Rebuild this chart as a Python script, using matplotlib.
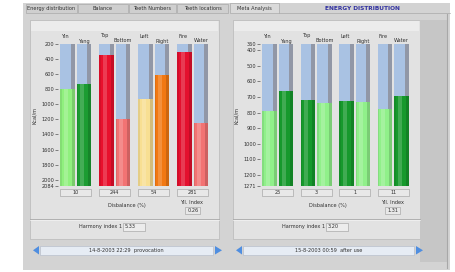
import matplotlib
matplotlib.use("Agg")
import matplotlib.pyplot as plt
from matplotlib.patches import Rectangle, Polygon

W, H = 456, 272

# ---------------------------------------------------------------------------
# data
# ---------------------------------------------------------------------------
tabs = ["Energy distribution", "Balance", "Teeth Numbers", "Teeth locations", "Meta Analysis"]
title = "ENERGY DISTRIBUTION"
categories = ["Yin", "Yang", "Top", "Bottom", "Left", "Right", "Fire", "Water"]

left_vals = [800, 735, 345, 1190, 935, 615, 310, 1245]
left_colors = ["#90f07e", "#1c9c32", "#e8102c", "#f27373", "#f8df92", "#f27812", "#e4102e", "#f27373"]
left_ticks = [200, 400, 600, 800, 1000, 1200, 1400, 1600, 1800, 2000, 2084]
left_disb = ["10", "244", "54", "281"]
left_yil = "0.26"
left_harmony = "5.33"
left_date = "14-8-2003 22:29  provocation"

right_vals = [790, 660, 720, 740, 728, 730, 775, 692]
right_colors = ["#90f08a", "#16992c", "#16992c", "#90f08a", "#16992c", "#90f08a", "#90f08a", "#16992c"]
right_ticks = [360, 400, 500, 600, 700, 800, 900, 1000, 1100, 1200, 1271]
right_disb = ["25", "3", "1", "11"]
right_yil = "1.31"
right_harmony = "3.20"
right_date = "15-8-2003 00:59  after use"

FS = 3.6
fig = plt.figure(figsize=(W / 100, H / 100), dpi=100)
fig.patch.set_facecolor("white")

# canvas in pixel coordinates for the window chrome
cv = fig.add_axes([0, 0, 1, 1])
cv.set_xlim(0, W); cv.set_ylim(H, 0); cv.axis("off")


def rect(x0, y0, x1, y1, fc, ec="none", lw=0.5, z=1):
    cv.add_patch(Rectangle((x0, y0), x1 - x0, y1 - y0, fc=fc, ec=ec, lw=lw, zorder=z))


# window body + tabs
rect(23, 3, 450, 270, "#d3d3d3")
tab_x = [(26, 77), (78, 128), (129, 176), (177, 228), (230, 279)]
for (a, b), t in zip(tab_x, tabs):
    sel = t == "Meta Analysis"
    rect(a, 3 if sel else 4, b, 13, "#dadada" if sel else "#cfcfcf", ec="#a0a0a0", lw=0.4)
    cv.text((a + b) / 2, 8.5, t, fontsize=FS, ha="center", va="center", color="#303030")
cv.text(362, 8.5, title, fontsize=4.2, ha="center", va="center", color="#3030a0", weight="bold")
cv.plot([279, 450], [13, 13], color="#a8a8a8", lw=0.5)

for px0, px1, gray_right in [(30, 219, False), (233, 420, True)]:
    rect(px0, 20, px1, 239, "#e2e2e2", ec="#b8b8b8", lw=0.5)
    rect(px0 + 1, 21, px1 - 1, 31, "#ececec")
    cv.plot([px0, px1], [219, 219], color="#a8a8a8", lw=0.6)
    cv.plot([px0, px1], [220, 220], color="#f4f4f4", lw=0.5)
    if gray_right:
        rect(420, 20, 447, 262, "#c6c6c6")
        cv.plot([447, 447], [14, 268], color="#a8a8a8", lw=0.8)


def panel(ax_x0, ax_x1, vals, colors, ticks, disb, yil, harmony, date,
          px0, px1, step, pair):
    top, bot = 44, 186
    ax = fig.add_axes([ax_x0 / W, (H - bot) / H, (ax_x1 - ax_x0) / W, (bot - top) / H])
    ax.set_facecolor("none")
    lo, hi = ticks[0], ticks[-1]
    ax.set_ylim(hi, lo)
    span = ax_x1 - ax_x0
    ax.set_xlim(0, span)
    bw = 14.5
    centers = [9.5 + (i // 2) * step + (i % 2) * pair for i in range(len(vals))]
    for i, (c, v, col) in enumerate(zip(centers, vals, colors)):
        # empty tube
        ax.bar(c, lo - hi, bottom=hi, width=bw, color="#a9c2e3", lw=0)
        ax.bar(c + bw * 0.36, lo - hi, bottom=hi, width=bw * 0.28, color="#9197a6", lw=0)
        # filled part with simple cylinder shading
        ax.bar(c, v - hi, bottom=hi, width=bw, color=col, lw=0)
        ax.bar(c - bw * 0.12, v - hi, bottom=hi, width=bw * 0.3, color="white", alpha=0.18, lw=0)
        ax.bar(c + bw * 0.4, v - hi, bottom=hi, width=bw * 0.2, color="black", alpha=0.15, lw=0)
        ax.bar(c - bw * 0.45, v - hi, bottom=hi, width=bw * 0.1, color="black", alpha=0.08, lw=0)
    ax.set_yticks(ticks)
    ax.set_yticklabels([str(t) for t in ticks])
    ax.tick_params(axis="y", labelsize=FS, length=2, width=0.4, pad=0.8, colors="#303030")
    ax.set_xticks([])
    for s in ax.spines.values():
        s.set_visible(False)
    ax.set_ylabel("Kcal/m", fontsize=FS, labelpad=3, color="#303030")
    # category labels, staggered like the original
    for i, c in enumerate(centers):
        xpix = ax_x0 + c
        if i % 2 == 0:
            cv.text(xpix - bw / 2 + 1, 36, categories[i], fontsize=FS, ha="left", va="center", color="#303030")
        else:
            cv.text(xpix, 41, categories[i], fontsize=FS, ha="center", va="center", color="#303030")
    # disbalance boxes under each pair
    for g, d in enumerate(disb):
        a = ax_x0 + centers[2 * g] - bw / 2
        b = ax_x0 + centers[2 * g + 1] + bw / 2
        rect(a, 188.5, b, 196, "#e8e8e8", ec="#9a9a9a", lw=0.4, z=2)
        cv.text((a + b) / 2, 192.3, d, fontsize=FS, ha="center", va="center", color="#303030", zorder=3)
    mid = ax_x0 + (centers[0] + centers[-3]) / 2 + 12
    cv.text(mid, 205, "Disbalance (%)", fontsize=FS, ha="center", va="center", color="#303030")
    yx = ax_x0 + centers[-1] - 9
    cv.text(yx, 203, "Yil. Index", fontsize=FS, ha="center", va="center", color="#303030")
    rect(yx - 7, 207, yx + 8, 214, "#e8e8e8", ec="#9a9a9a", lw=0.4, z=2)
    cv.text(yx + 1, 210.5, yil, fontsize=FS, ha="center", va="center", color="#303030", zorder=3)
    # harmony index
    hx = px0 + 92
    cv.text(hx, 226.5, "Harmony index 1", fontsize=FS, ha="right", va="center", color="#303030")
    rect(hx + 1, 222.5, hx + 23, 230.5, "#ececec", ec="#9a9a9a", lw=0.4, z=2)
    cv.text(hx + 3, 226.5, harmony, fontsize=FS, ha="left", va="center", color="#303030", zorder=3)
    # navigation bar
    rect(px0 + 10, 246, px1 - 6, 254.5, "#e6ecf4", ec="#b0b8c8", lw=0.4, z=2)
    cv.text((px0 + px1) / 2 + 2, 250.3, date, fontsize=FS, ha="center", va="center", color="#303030", zorder=3)
    cv.add_patch(Polygon([[px0 + 3, 250.3], [px0 + 9, 246], [px0 + 9, 254.5]], closed=True,
                         fc="#4f8ee0", ec="none", zorder=3))
    cv.add_patch(Polygon([[px1 + 3, 250.3], [px1 - 4, 246], [px1 - 4, 254.5]], closed=True,
                         fc="#4f8ee0", ec="none", zorder=3))
    return ax


panel(58, 210, left_vals, left_colors, left_ticks, left_disb, left_yil, left_harmony, left_date,
      30, 219, 39, 16.3)
panel(260, 412, right_vals, right_colors, right_ticks, right_disb, right_yil, right_harmony, right_date,
      233, 420, 38.5, 16.5)

fig.savefig("out.png", dpi=100)
